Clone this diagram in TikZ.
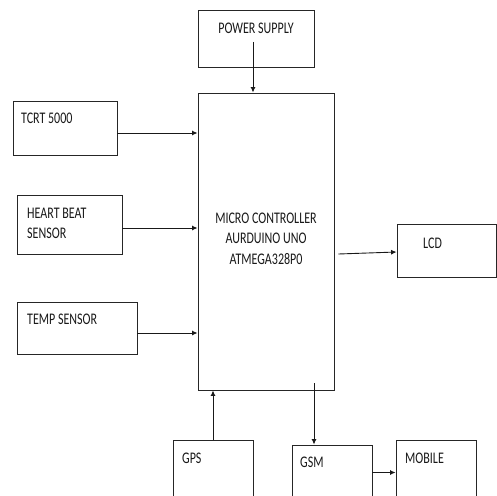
\documentclass[tikz,border=0pt]{standalone}
\usepackage{fontspec}
\setmainfont{Carlito}
\usetikzlibrary{arrows.meta,calc}
\newcommand\stxt[1]{\scalebox{1}[1.35]{#1}}
\begin{document}
\begin{tikzpicture}[x=1pt,y=-1pt,
  box/.style={draw=black!85, line width=0.9pt, rectangle, inner sep=0pt},
  lbl/.style={anchor=base west, inner sep=0pt, font=\fontsize{12}{14}\selectfont, text=black!90},
  clbl/.style={anchor=base, inner sep=0pt, font=\fontsize{12}{14}\selectfont, text=black!90},
  arr/.style={draw=black!90, line width=0.9pt, -{Latex[length=5.5pt,width=5pt]}}]
\useasboundingbox (0,0) rectangle (497,495);
\clip (0,0) rectangle (497,495);
\fill[white] (0,0) rectangle (497,495);
% boxes
\node[box, minimum width=116pt, minimum height=57pt] (ps) at (256,38.5) {};
\node[box, minimum width=136pt, minimum height=297pt] (main) at (266,241.5) {};
\node[box, minimum width=104pt, minimum height=54pt] (tcrt) at (65,128) {};
\node[box, minimum width=105pt, minimum height=59pt] (hb) at (69.5,224.5) {};
\node[box, minimum width=120pt, minimum height=52pt] (temp) at (77,328) {};
\node[box, minimum width=99.5pt, minimum height=53pt] (lcd) at (446.75,250.5) {};
\node[box, minimum width=80pt, minimum height=60pt] (gps) at (213,470) {};
\node[box, minimum width=80pt, minimum height=55pt] (gsm) at (332,472.5) {};
\node[box, minimum width=80pt, minimum height=60pt] (mob) at (436,470) {};
% labels
\node[clbl] (pst) at (256,34) {\stxt{POWER SUPPLY}};
\node[lbl] (tcrtt) at (21,123) {\stxt{TCRT 5000}};
\node[lbl] (hbt1) at (27,218) {\stxt{HEART BEAT}};
\node[lbl] (hbt2) at (27,238) {\stxt{SENSOR}};
\node[lbl] (tempt) at (27,324) {\stxt{TEMP SENSOR}};
\node[clbl] (m1) at (266,223) {\stxt{MICRO CONTROLLER}};
\node[clbl] (m2) at (266,243.5) {\stxt{AURDUINO UNO}};
\node[clbl] (m3) at (266,264) {\stxt{ATMEGA328P0}};
\node[lbl] (lcdt) at (423,248) {\stxt{LCD}};
\node[lbl] (gpst) at (182,463) {\stxt{GPS}};
\node[lbl] (gsmt) at (300,467) {\stxt{GSM}};
\node[lbl] (mobt) at (405,463) {\stxt{MOBILE}};
% connectors
\draw[arr] ([xshift=-3pt,yshift=-3.5pt]ps.center) -- ([xshift=-3pt]ps.center |- main.north);
\draw[arr] ([yshift=-5pt]tcrt.east) -- ([yshift=-5pt]tcrt.east -| main.west);
\draw[arr] ([yshift=-3.5pt]hb.east) -- ([yshift=-3.5pt]hb.east -| main.west);
\draw[arr] ([yshift=-5pt]temp.east) -- ([yshift=-5pt]temp.east -| main.west);
\draw[arr] ([xshift=4pt,yshift=-12.5pt]main.east) -- ([yshift=-1.5pt]lcd.west);
\draw[arr] (gps.north) -- (gps.north |- main.south);
\draw[arr] ([xshift=-18pt,yshift=7pt]gsm.north |- main.south) -- ([xshift=-18pt]gsm.north);
\draw[arr] (gsm.east) -- (gsm.east -| mob.west);
\end{tikzpicture}
\end{document}
